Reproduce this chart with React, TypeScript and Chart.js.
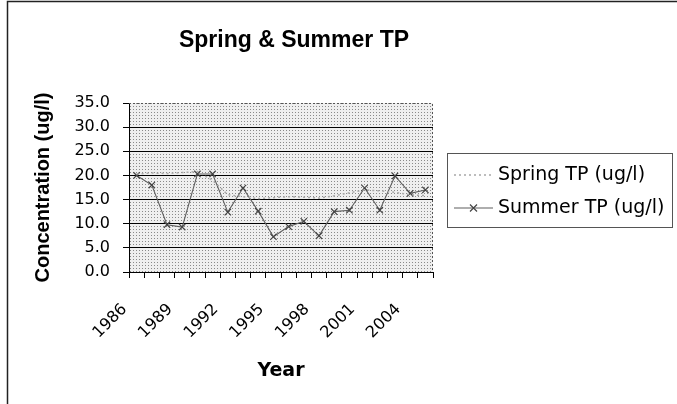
import React, { useEffect, useRef } from 'react';
import { Chart, registerables } from 'chart.js';

Chart.register(...registerables);

const years = ['1986', '1987', '1988', '1989', '1990', '1991', '1992', '1993', '1994', '1995',
  '1996', '1997', '1998', '1999', '2000', '2001', '2002', '2003', '2004', '2005'];
const springTP = [20.3, 20.5, 20.4, 20.6, 20.8, 19.0, 16.0, 15.6, 15.2, 15.4,
  15.6, 15.5, 15.3, 15.8, 16.4, 17.0, 16.8, 16.5, 16.0, 15.8];
const summerTP = [20.0, 18.0, 9.8, 9.3, 20.3, 20.3, 12.4, 17.4, 12.6, 7.3,
  9.4, 10.5, 7.5, 12.5, 12.8, 17.4, 12.8, 19.9, 16.3, 17.0];
const seriesNames = ['Spring TP (ug/l)', 'Summer TP (ug/l)'];
const chartTitle = 'Spring & Summer TP';
const yTitle = 'Concentration (ug/l)';
const xTitle = 'Year';
const yMin = 0;
const yMax = 35;
const yStep = 5;
const labelEvery = 3;

const W = 677;
const H = 404;
const PLOT_LEFT = 129;
const PLOT_RIGHT = 433;
const PLOT_TOP = 103;
const PLOT_BOTTOM = 272;

const SPRING_COLOR = '#a8a8a8';
const SUMMER_LINE = '#5e5e5e';
const SUMMER_POINT = '#444444';

function makePattern(ctx: CanvasRenderingContext2D) {
  const c = document.createElement('canvas');
  c.width = 3;
  c.height = 3;
  const g = c.getContext('2d')!;
  g.fillStyle = '#efefef';
  g.fillRect(0, 0, 3, 3);
  g.fillStyle = '#8a8a8a';
  g.fillRect(1, 1, 1, 1);
  return ctx.createPattern(c, 'repeat');
}

const decorPlugin = {
  id: 'decor',
  beforeDraw(chart: any) {
    const { ctx, chartArea } = chart;
    ctx.save();
    ctx.fillStyle = '#ffffff';
    ctx.fillRect(0, 0, W, H);
    const pat = makePattern(ctx);
    ctx.fillStyle = pat || '#e2e2e2';
    ctx.fillRect(chartArea.left, chartArea.top, chartArea.right - chartArea.left, chartArea.bottom - chartArea.top);
    ctx.restore();
  },
  afterDraw(chart: any) {
    const { ctx, chartArea } = chart;
    ctx.save();
    // outer chart border
    ctx.strokeStyle = '#222';
    ctx.lineWidth = 1.5;
    ctx.beginPath();
    ctx.moveTo(7.5, H);
    ctx.lineTo(7.5, 1.5);
    ctx.lineTo(W, 1.5);
    ctx.stroke();

    // plot area dotted top/right border
    ctx.strokeStyle = '#555';
    ctx.lineWidth = 1;
    ctx.setLineDash([2, 2]);
    ctx.beginPath();
    ctx.moveTo(chartArea.left, chartArea.top + 0.5);
    ctx.lineTo(chartArea.right - 0.5, chartArea.top + 0.5);
    ctx.lineTo(chartArea.right - 0.5, chartArea.bottom);
    ctx.stroke();
    ctx.setLineDash([]);

    // title
    ctx.fillStyle = '#000';
    ctx.font = 'bold 23px "Liberation Sans", Arial, sans-serif';
    ctx.textAlign = 'center';
    ctx.textBaseline = 'alphabetic';
    ctx.fillText(chartTitle, 294, 47);

    // legend
    const lx = 447.5, ly = 153.5, lw = 225, lh = 74;
    ctx.fillStyle = '#ffffff';
    ctx.fillRect(lx, ly, lw, lh);
    ctx.strokeStyle = '#555';
    ctx.lineWidth = 1;
    ctx.strokeRect(lx, ly, lw, lh);
    const rows = [175, 208];
    ctx.font = '19px "DejaVu Sans"';
    ctx.textAlign = 'left';
    ctx.textBaseline = 'middle';
    // spring sample
    ctx.strokeStyle = SPRING_COLOR;
    ctx.lineWidth = 1.5;
    ctx.setLineDash([2, 3]);
    ctx.beginPath();
    ctx.moveTo(454, rows[0]);
    ctx.lineTo(493, rows[0]);
    ctx.stroke();
    ctx.setLineDash([]);
    // summer sample
    ctx.strokeStyle = SUMMER_LINE;
    ctx.lineWidth = 1.2;
    ctx.beginPath();
    ctx.moveTo(454, rows[1]);
    ctx.lineTo(493, rows[1]);
    ctx.stroke();
    ctx.strokeStyle = SUMMER_POINT;
    ctx.beginPath();
    ctx.moveTo(470, rows[1] - 3.5);
    ctx.lineTo(477, rows[1] + 3.5);
    ctx.moveTo(477, rows[1] - 3.5);
    ctx.lineTo(470, rows[1] + 3.5);
    ctx.stroke();
    ctx.fillStyle = '#000';
    ctx.fillText(seriesNames[0], 498, rows[0]);
    ctx.fillText(seriesNames[1], 498, rows[1]);
    ctx.restore();
  },
};

export default function App() {
  const ref = useRef<HTMLCanvasElement | null>(null);

  useEffect(() => {
    const canvas = ref.current;
    if (!canvas) return;
    const chart = new Chart(canvas, {
      type: 'line',
      data: {
        labels: years,
        datasets: [
          {
            label: seriesNames[0],
            data: springTP,
            borderColor: SPRING_COLOR,
            borderWidth: 1.5,
            borderDash: [2, 3],
            pointRadius: 0,
            fill: false,
            tension: 0,
          },
          {
            label: seriesNames[1],
            data: summerTP,
            borderColor: SUMMER_LINE,
            borderWidth: 1.1,
            pointStyle: 'crossRot',
            pointRadius: 4.5,
            pointBorderColor: SUMMER_POINT,
            pointBorderWidth: 1.2,
            fill: false,
            tension: 0,
          },
        ],
      },
      options: {
        responsive: false,
        animation: false,
        devicePixelRatio: 1,
        layout: {
          padding: { left: 8, right: W - PLOT_RIGHT, top: PLOT_TOP, bottom: 0 },
        },
        plugins: {
          legend: { display: false },
          title: { display: false },
          tooltip: { enabled: false },
        },
        scales: {
          x: {
            type: 'category',
            offset: true,
            grid: {
              display: true,
              drawOnChartArea: false,
              drawTicks: true,
              tickLength: 6,
              color: '#000',
              offset: true,
            },
            border: { display: true, color: '#000', width: 1 },
            ticks: {
              autoSkip: false,
              maxRotation: 45,
              minRotation: 45,
              padding: 22,
              labelOffset: -12,
              color: '#000',
              font: { family: '"DejaVu Sans"', size: 16 },
              callback: (_v: any, i: number) => (i % labelEvery === 0 ? years[i] : ''),
            },
            title: {
              display: true,
              text: xTitle,
              color: '#000',
              font: { family: '"DejaVu Sans"', weight: 'bold', size: 19 },
              padding: { top: 0, bottom: 22 },
            },
            afterFit: (s: any) => {
              s.height = H - PLOT_BOTTOM;
            },
          } as any,
          y: {
            min: yMin,
            max: yMax,
            ticks: {
              stepSize: yStep,
              padding: 13,
              color: '#000',
              font: { family: '"DejaVu Sans"', size: 16 },
              callback: (v: any) => Number(v).toFixed(1),
            },
            grid: {
              color: (c: any) => (c.tick && c.tick.value === yMax ? 'rgba(0,0,0,0)' : '#000'),
              lineWidth: 1,
              drawTicks: true,
              tickLength: 6,
              tickColor: '#000',
            },
            border: { display: true, color: '#000', width: 1 },
            title: {
              display: true,
              text: yTitle,
              color: '#000',
              font: { family: '"Liberation Sans"', weight: 'bold', size: 20 },
              padding: { top: 23, bottom: 0 },
            },
            afterFit: (s: any) => {
              s.width = PLOT_LEFT - 8;
            },
          } as any,
        },
      },
      plugins: [decorPlugin],
    });
    return () => chart.destroy();
  }, []);

  return (
    <div style={{ position: 'fixed', left: 0, top: 0, width: W, height: H, background: '#fff' }}>
      <canvas ref={ref} width={W} height={H} style={{ display: 'block', width: W, height: H }} />
    </div>
  );
}
